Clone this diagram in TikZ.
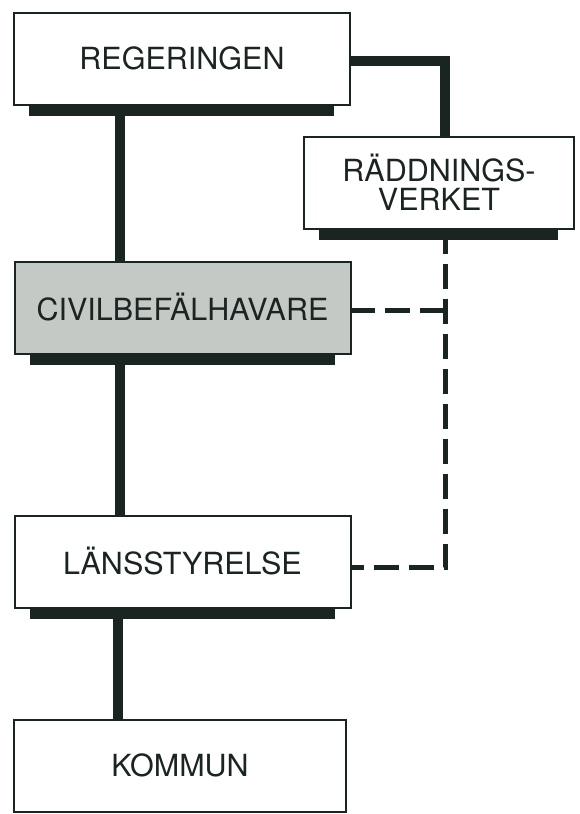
\documentclass[tikz,border=0pt]{standalone}
\usepackage{fontspec}
\setmainfont{TeX Gyre Heros}
\usetikzlibrary{calc}
\definecolor{ink}{RGB}{26,36,32}
\definecolor{halftone}{RGB}{196,201,198}

\begin{document}
\begin{tikzpicture}[x=1pt, y=-1pt,
  box/.style={draw=ink, line width=2pt, fill=white, inner sep=0pt,
    minimum width=336pt, minimum height=92pt, align=center,
    font=\fontsize{30.5}{29}\selectfont, text=ink},
  link/.style={draw=ink, line width=10pt},
  dashlink/.style={draw=ink, line width=5pt, dash pattern=on 25pt off 10pt, dash phase=11pt}]
  \useasboundingbox (0,0) rectangle (580,814);
  \coordinate (spine) at (120,0);
  \coordinate (side) at (445,0);

  \node[box] (reg) at (182,58.5) {REGERINGEN};
  \node[box, minimum width=270pt] (rad) at (439,182.5) {RÄDDNINGS-\\VERKET};
  \node[box, fill=halftone] (civ) at (182.5,307.5) {CIVILBEFÄLHAVARE};
  \node[box] (lan) at (182.5,561.5) {LÄNSSTYRELSE};
  \node[box, minimum width=332pt] (kom) at (180,765.5) {KOMMUN};

  % shadows under the boxes
  \foreach \n in {reg,rad,civ,lan}
    \fill[ink] ([xshift=16pt]\n.south west) rectangle ([xshift=-17pt,yshift=-10pt]\n.south east);

  \draw[link] (reg.south -| spine) -- (civ.north -| spine);
  \draw[link] (civ.south -| spine) -- (lan.north -| spine);
  \draw[link] ([xshift=-2pt]lan.south -| spine) -- ([xshift=-2pt]kom.north -| spine);
  \draw[link] ([yshift=-2pt]reg.east) -| (rad.north -| side);

  \draw[dashlink] ([yshift=-10pt]rad.south -| side) |- ([yshift=-6pt]lan.east);
  \draw[dashlink, dash phase=0pt] ([yshift=-3pt]civ.east -| side) -- ([yshift=-3pt]civ.east);
\end{tikzpicture}
\end{document}
